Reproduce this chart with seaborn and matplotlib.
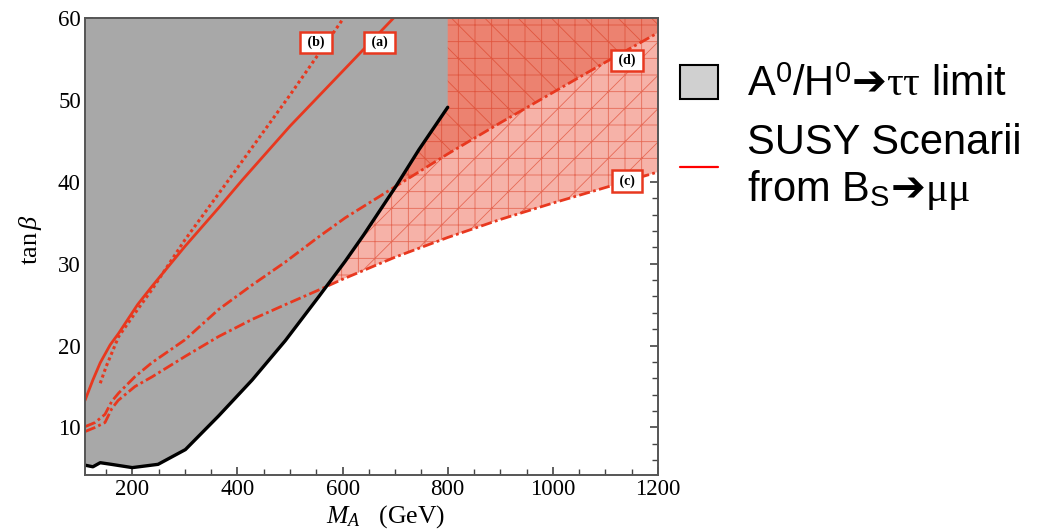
import numpy as np
import pandas as pd
import matplotlib
matplotlib.use("Agg")
import matplotlib.pyplot as plt
import seaborn as sns
from matplotlib.patches import Patch
from matplotlib.lines import Line2D

# ---------------- data ----------------
black_x = [110, 125, 139, 160, 200, 249, 301, 364, 428, 491, 555, 605, 640, 701, 745, 800]
black_y = [5.4, 5.2, 5.7, 5.5, 5.1, 5.5, 7.3, 11.4, 15.8, 20.6, 26.0, 30.3, 33.5, 39.4, 43.9, 49.1]

a_x = [110, 125, 139, 158, 174, 210, 237, 300, 364, 409, 500, 615, 697]
a_y = [13.3, 15.8, 17.9, 20.1, 21.5, 25.0, 27.2, 32.1, 36.8, 40.2, 46.8, 54.5, 60.0]

b_x = [139, 150, 174, 210, 237, 300, 383, 500, 602]
b_y = [15.4, 17.4, 21.1, 24.4, 26.8, 32.9, 40.2, 50.6, 60.0]

c_x = [110, 129, 148, 161, 173, 205, 238, 301, 364, 428, 491, 555, 600, 700, 800, 900, 1000, 1100, 1200]
c_y = [9.5, 10.0, 10.6, 12.3, 13.3, 15.0, 16.2, 18.7, 21.1, 23.2, 25.0, 26.8, 28.1, 30.8, 33.2, 35.4, 37.4, 39.3, 41.2]

d_x = [110, 129, 148, 161, 174, 205, 237, 300, 364, 428, 491, 555, 605, 700, 800, 900, 1000, 1100, 1200]
d_y = [10.1, 10.6, 11.6, 13.2, 14.2, 16.2, 17.9, 20.7, 24.4, 27.4, 30.2, 33.3, 35.6, 39.4, 43.4, 47.2, 50.9, 54.6, 58.2]

scenario_labels = [" (a) ", " (b) ", " (c) ", " (d) "]
label_x = [670, 550, 1141, 1141]
label_y = [57.0, 57.0, 40.1, 54.8]

x_ticks = [200, 400, 600, 800, 1000, 1200]
y_ticks = [10, 20, 30, 40, 50, 60]
legend_labels = [r"A$^{\mathsf{0}}$/H$^{\mathsf{0}}$$\mathbf{➔}$$\mathrm{\tau\tau}$ limit",
                 "SUSY Scenarii\nfrom B$_{\mathsf{S}}$$\mathbf{➔}$$\mathrm{\mu\mu}$"]

# ---------------- style ----------------
sns.set_style("ticks")
plt.rcParams["font.family"] = ["Liberation Serif", "DejaVu Serif"]
plt.rcParams["mathtext.fontset"] = "custom"
plt.rcParams["mathtext.rm"] = "Liberation Serif"
plt.rcParams["mathtext.it"] = "Liberation Serif:italic"
plt.rcParams["mathtext.bf"] = "DejaVu Sans"
plt.rcParams["mathtext.sf"] = "Liberation Sans"
plt.rcParams["hatch.linewidth"] = 0.6
plt.rcParams["text.color"] = "black"
plt.rcParams["xtick.labelcolor"] = "black"
plt.rcParams["ytick.labelcolor"] = "black"
plt.rcParams["axes.labelcolor"] = "black"

RED = "#e8381f"
GRAY = "#a8a8a8"

fig = plt.figure(figsize=(10.39, 5.31), dpi=100)
ax = fig.add_axes([0.0818, 0.1055, 0.5515, 0.8606])

XMIN, XMAX, YMIN, YMAX = 110, 1200, 4.2, 60

# red allowed regions (hatched), light above (c), darker above (d)
cx = np.array(c_x, float); cy = np.array(c_y, float)
dx = np.array(d_x, float); dy = np.array(d_y, float)
ax.fill_between(cx, cy, YMAX, facecolor="#f6b2a8", edgecolor="#e66a56",
                hatch="+/", linewidth=0, zorder=1)
ax.fill_between(dx, dy, YMAX, facecolor="#ec8270", edgecolor="#e0563f",
                hatch="+\\", linewidth=0, zorder=1.1)

# grey excluded region
bx = np.array(black_x, float); by = np.array(black_y, float)
ax.fill_between(bx, by, YMAX, facecolor=GRAY, edgecolor="none", zorder=2)

# curves
sns.lineplot(data=pd.DataFrame({"x": black_x, "y": black_y}), x="x", y="y", ax=ax,
             color="black", lw=2.4, estimator=None, sort=False, zorder=5)
sns.lineplot(data=pd.DataFrame({"x": a_x, "y": a_y}), x="x", y="y", ax=ax,
             color=RED, lw=2.0, estimator=None, sort=False, zorder=4)
sns.lineplot(data=pd.DataFrame({"x": b_x, "y": b_y}), x="x", y="y", ax=ax,
             color=RED, lw=2.2, linestyle=(0, (1, 1)), estimator=None, sort=False, zorder=4)
sns.lineplot(data=pd.DataFrame({"x": c_x, "y": c_y}), x="x", y="y", ax=ax,
             color=RED, lw=2.0, linestyle=(0, (4, 1.2, 1, 1.2)), estimator=None, sort=False, zorder=4)
sns.lineplot(data=pd.DataFrame({"x": d_x, "y": d_y}), x="x", y="y", ax=ax,
             color=RED, lw=2.0, linestyle=(0, (4, 1.2, 1, 1.2)), estimator=None, sort=False, zorder=4)

# scenario labels
for lab, lx, ly in zip(scenario_labels, label_x, label_y):
    ax.text(lx, ly, lab, ha="center", va="center", fontsize=10, fontweight="bold",
            family="Liberation Serif", zorder=6,
            bbox=dict(boxstyle="square,pad=0.3", facecolor="white", edgecolor=RED, lw=1.8))

ax.set_xlim(XMIN, XMAX)
ax.set_ylim(YMIN, YMAX)
ax.set_xticks(x_ticks)
ax.set_yticks(y_ticks)
ax.set_xticks(np.arange(150, 1200, 50), minor=True)
ax.set_yticks(np.arange(6, 60, 2), minor=True)
ax.tick_params(which="both", direction="in", top=True, right=True, color="#444444",
               labelsize=16.5, pad=3)
ax.tick_params(which="major", length=6, width=1.2)
ax.tick_params(which="minor", length=4, width=1.0)
for s in ax.spines.values():
    s.set_color("#555555")
    s.set_linewidth(1.4)
    s.set_zorder(7)

ax.set_xlabel(r"$M_A$   (GeV)", fontsize=18.5)
ax.set_ylabel(r"$\tan\beta$", fontsize=19)
ax.xaxis.set_label_coords(0.524, -0.062)
ax.yaxis.set_label_coords(-0.072, 0.515)

# legend
handles = [Patch(facecolor="#d0d0d0", edgecolor="black", linewidth=1.5),
           Line2D([0], [0], color="#ff0000", lw=1.6)]
leg = fig.legend(handles, legend_labels, loc="upper left", bbox_to_anchor=(0.6545, 0.877),
                 frameon=False, handlelength=0.9, handleheight=0.85,
                 handletextpad=0.7, labelspacing=0.42, borderpad=0, borderaxespad=0,
                 prop={"family": ["Liberation Sans", "DejaVu Sans"], "size": 30})
for t in leg.get_texts():
    t.set_linespacing(1.16)
    t.set_color("black")

fig.savefig("out.png", dpi=100)
